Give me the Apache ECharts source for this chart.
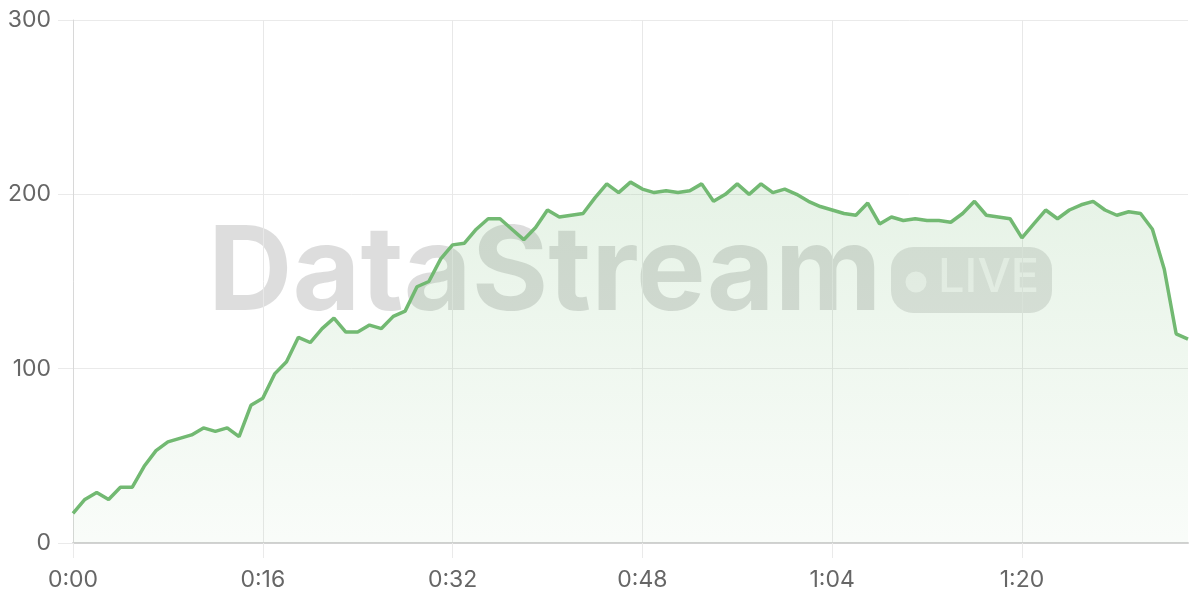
<!DOCTYPE html>
<html>
<head>
<meta charset="utf-8">
<script src="https://cdn.jsdelivr.net/npm/echarts@6/dist/echarts.min.js"></script>
<style>
html,body{margin:0;padding:0;background:#fff;}
#chart{width:1200px;height:600px;}
</style>
</head>
<body>
<div id="chart"></div>
<script>
// Data (minutes elapsed -> value)
const minutes = [0,1,2,3,4,5,6,7,8,9,10,11,12,13,14,15,16,17,18,19,20,21,22,23,24,25,26,27,28,29,30,31,32,33,34,35,36,37,38,39,40,41,42,43,44,45,46,47,48,49,50,51,52,53,54,55,56,57,58,59,60,61,62,63,64,65,66,67,68,69,70,71,72,73,74,75,76,77,78,79,80,81,82,83,84,85,86,87,88,89,90,91,92,93,94];
const values = [17,25,29,25,32,32,44,53,58,60,62,66,64,66,61,79,83,97,104,118,115,123,129,121,121,125,123,130,133,147,150,163,171,172,180,186,186,180,174,181,191,187,188,189,198,206,201,207,203,201,202,201,202,206,196,200,206,200,206,201,203,200,196,193,191,189,188,195,183,187,185,186,185,185,184,189,196,188,187,186,175,183,191,186,191,194,196,191,188,190,189,180,157,120,117];
const yTicks = [0,100,200,300];
const watermarkTitle = 'DataStream';
const watermarkBadge = 'LIVE';

function fmt(m){ const h = Math.floor(m/60), mm = m%60; return h + ':' + (mm<10?'0':'') + mm; }
const categories = minutes.map(fmt);

const chart = echarts.init(document.getElementById('chart'), null, {renderer:'canvas'});
const FONT = 'Inter, "Noto Sans", sans-serif';
chart.setOption({
  animation:false,
  backgroundColor:'#fff',
  grid:{left:73,right:12,top:20,bottom:57,containLabel:false},
  graphic:[
    {type:'text', z:-10, left:208, top:216,
     style:{text:watermarkTitle, font:'bold 117px Inter, sans-serif', fill:'rgba(0,0,0,0.135)'}},
    {type:'rect', z:-10, shape:{x:891,y:247,width:161,height:66,r:22},
     style:{fill:'rgba(0,0,0,0.11)'}},
    {type:'circle', z:-9, shape:{cx:916,cy:282,r:10.5},
     style:{fill:'rgba(255,255,255,0.6)'}},
    {type:'text', z:-9, left:938, top:254,
     style:{text:watermarkBadge, font:'500 47px Inter, sans-serif', fill:'rgba(255,255,255,0.6)'}}
  ],
  xAxis:{
    type:'category', data:categories, boundaryGap:false,
    axisLine:{show:true, lineStyle:{color:'#d2d2d2', width:2}},
    axisTick:{show:true, interval:15, length:15, lineStyle:{color:'#eaeaea'}},
    axisLabel:{interval:15, margin:26, color:'#666', fontSize:23, fontFamily:FONT},
    splitLine:{show:true, interval:15, lineStyle:{color:'#e8e8e8'}}
  },
  yAxis:{
    type:'value', min:yTicks[0], max:yTicks[yTicks.length-1], interval:100,
    axisLine:{show:true, lineStyle:{color:'#d8d8d8'}},
    axisTick:{show:true, length:15, lineStyle:{color:'#eaeaea'}},
    axisLabel:{margin:22, color:'#666', fontSize:23, fontFamily:FONT},
    splitLine:{show:true, lineStyle:{color:'#eaeaea'}}
  },
  series:[{
    type:'line', data:values, symbol:'none', smooth:false,
    lineStyle:{color:'#72b972', width:3.5},
    itemStyle:{color:'#72b972'},
    areaStyle:{color:new echarts.graphic.LinearGradient(0,0,0,1,[
      {offset:0,color:'rgba(116,187,116,0.26)'},
      {offset:1,color:'rgba(116,187,116,0.06)'}
    ])}
  }]
});
</script>
</body>
</html>
